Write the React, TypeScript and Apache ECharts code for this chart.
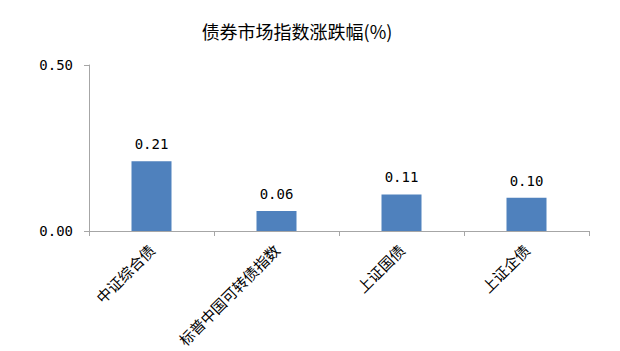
import React, { useEffect, useRef } from "react";
import * as echarts from "echarts";

const categories = ["中证综合债", "标普中国可转债指数", "上证国债", "上证企债"];
const values = [0.21, 0.06, 0.11, 0.1];
const titleText = "债券市场指数涨跌幅(%)";

export default function App() {
  const ref = useRef<HTMLDivElement>(null);
  useEffect(() => {
    const chart = echarts.init(ref.current!, null, { renderer: "svg" });
    chart.setOption({
      animation: false,
      backgroundColor: "#ffffff",
      title: {
        text: titleText,
        left: 292,
        textAlign: "center",
        top: 17,
        textStyle: {
          fontFamily: "Noto Sans CJK SC",
          fontSize: 18,
          fontWeight: "normal",
          color: "#000",
        },
      },
      grid: { left: 89, right: 31, top: 65, bottom: 120, containLabel: false },
      xAxis: {
        type: "category",
        data: categories,
        axisLine: { show: true, lineStyle: { color: "#a6a6a6", width: 1 } },
        axisTick: { show: true, length: 5, alignWithLabel: false, lineStyle: { color: "#a6a6a6" } },
        axisLabel: {
          rotate: 45,
          interval: 0,
          margin: 16,
          fontFamily: "Noto Sans CJK SC",
          fontSize: 15,
          color: "#000",
        },
      },
      yAxis: {
        type: "value",
        min: 0,
        max: 0.5,
        interval: 0.5,
        splitLine: { show: false },
        axisLine: { show: true, lineStyle: { color: "#a6a6a6", width: 1 } },
        axisTick: { show: true, length: 5, lineStyle: { color: "#a6a6a6" } },
        axisLabel: {
          formatter: (v: number) => v.toFixed(2),
          margin: 16,
          fontFamily: "DejaVu Sans Mono",
          fontSize: 14,
          color: "#000",
        },
      },
      series: [
        {
          type: "bar",
          data: values,
          barWidth: 40,
          itemStyle: { color: "#4f81bd" },
          label: {
            show: true,
            position: "top",
            distance: 10,
            formatter: (p: any) => p.value.toFixed(2),
            fontFamily: "DejaVu Sans Mono",
            fontSize: 14,
            color: "#000",
          },
        },
      ],
    });
    return () => chart.dispose();
  }, []);
  return (
    <div
      ref={ref}
      style={{ position: "fixed", left: 0, top: 0, width: 620, height: 351 }}
    />
  );
}
